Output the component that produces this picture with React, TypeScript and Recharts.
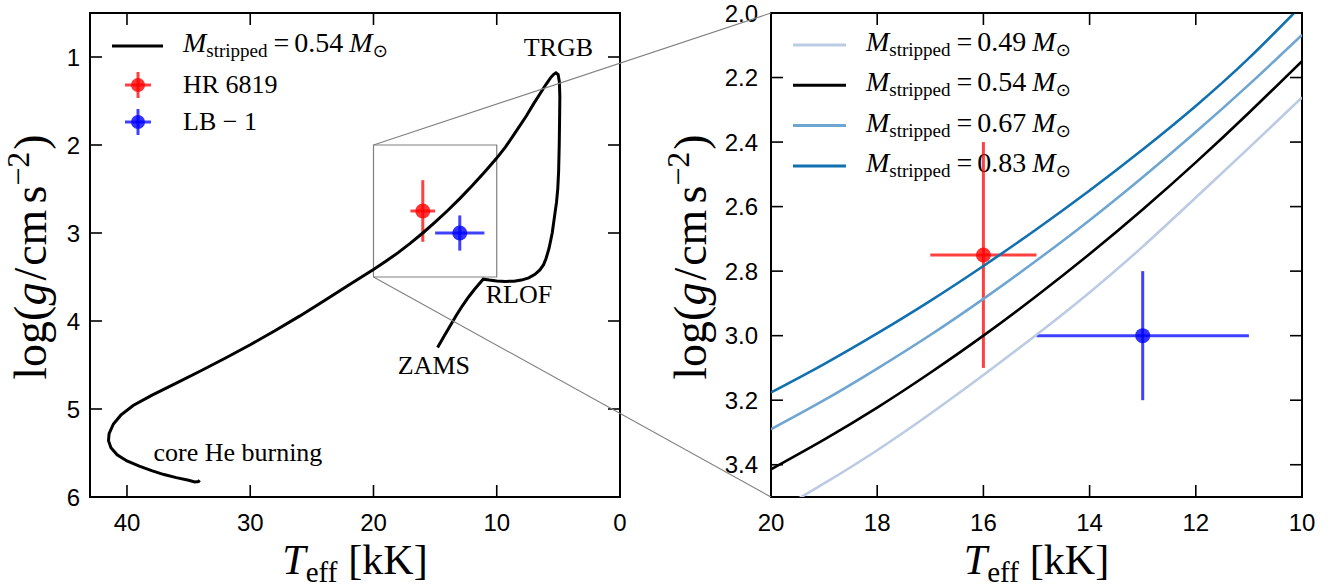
import React from 'react';
import {
  ComposedChart,
  Line,
  Scatter,
  XAxis,
  YAxis,
  ErrorBar,
  ReferenceArea,
  ReferenceDot,
  Customized,
} from 'recharts';

const SERIF = '"Liberation Serif", "DejaVu Serif", serif';
const SANS = '"Liberation Sans", Arial, sans-serif';

// ---------------- data ----------------
// Left panel: full evolutionary track of the 0.54 Msun stripped star (Teff [kK], log g)
const trackZamsToTrgb = [
  [14.8, 4.3], [14.3, 4.18], [13.8, 4.06], [13.3, 3.94], [12.8, 3.83], [12.3, 3.73],
  [11.8, 3.64], [11.4, 3.575], [11.1, 3.525], [10.6, 3.535], [10.0, 3.545], [9.3, 3.55],
  [8.6, 3.548], [8.0, 3.535], [7.4, 3.51], [6.9, 3.47], [6.5, 3.42], [6.2, 3.36],
  [6.0, 3.29], [5.75, 3.17], [5.5, 3.0], [5.3, 2.8], [5.15, 2.65], [5.05, 2.5],
  [4.98, 2.3], [4.93, 2.0], [4.9, 1.7], [4.88, 1.45], [4.92, 1.28], [5.02, 1.2],
  [5.2, 1.18], [5.4, 1.2], [5.65, 1.24], [6.0, 1.31], [6.5, 1.42], [7.0, 1.53],
  [7.6, 1.67], [8.5, 1.86], [9.3, 2.025],
];
const trackHotBranch = [
  [22, 3.59], [24, 3.77], [26, 3.945], [28, 4.11], [30, 4.27], [32, 4.42],
  [34, 4.565], [36, 4.705], [38, 4.845], [39.5, 4.96], [40.5, 5.07], [41.1, 5.17],
  [41.45, 5.28], [41.5, 5.36], [41.3, 5.44], [40.8, 5.52], [40.0, 5.59], [39.0, 5.65],
  [38.0, 5.7], [37.0, 5.745], [36.0, 5.78], [35.0, 5.81], [34.5, 5.83], [34.2, 5.825],
  [34.1, 5.81],
];

// Right panel: zoomed tracks for different stripped masses
const zoomTeff = [20, 19, 18, 17, 16, 15, 14, 13, 12, 11, 10];
const logg049 = [3.555, 3.458, 3.355, 3.242, 3.122, 2.997, 2.866, 2.724, 2.572, 2.418, 2.262];
const logg054 = [3.414, 3.322, 3.223, 3.115, 3.0, 2.877, 2.747, 2.609, 2.463, 2.309, 2.149];
const logg067 = [3.29, 3.2, 3.102, 2.998, 2.886, 2.767, 2.642, 2.509, 2.369, 2.222, 2.068];
const logg083 = [3.176, 3.088, 2.993, 2.892, 2.784, 2.67, 2.55, 2.423, 2.288, 2.14, 1.975];

// Observed stars
const hr6819 = [{ t: 16, g: 2.75, tErr: 1, gErr: 0.35 }];
const lb1 = [{ t: 13, g: 3.0, tErr: 2, gErr: 0.2 }];

// Ticks
const leftTicksX = [40, 30, 20, 10, 0];
const leftTicksY = [1, 2, 3, 4, 5, 6];
const rightTicksX = [20, 18, 16, 14, 12, 10];
const rightTicksY = [2.0, 2.2, 2.4, 2.6, 2.8, 3.0, 3.2, 3.4];

// Legend labels
const leftLegendMass = '0.54';
const starNames = ['HR 6819', 'LB \u2212 1'];
const rightLegendMasses = ['0.49', '0.54', '0.67', '0.83'];

// Annotations (text, Teff, log g of the text baseline centre)
const annotations = [
  { text: 'TRGB', t: 5.0, g: 0.99 },
  { text: 'RLOF', t: 8.2, g: 3.8 },
  { text: 'ZAMS', t: 15.1, g: 4.6 },
  { text: 'core He burning', t: 31.0, g: 5.59 },
];

// zoom box (Teff range, log g range)
const zoomBoxT = [10, 20];
const zoomBoxG = [2.0, 3.5];

// ---------------- derived series ----------------
const toPts = (arr: number[][]) => arr.map(([t, g]) => ({ t, g }));
const zoomSeries = (vals: number[]) => zoomTeff.map((t, i) => ({ t, g: vals[i] }));
const zoom054 = zoomSeries(logg054);
const fullTrack = [
  ...toPts(trackZamsToTrgb),
  ...zoom054.slice().reverse(),
  ...toPts(trackHotBranch),
];
const rightSeries = [
  { data: zoomSeries(logg049), color: '#bccbe4' },
  { data: zoom054, color: '#000000' },
  { data: zoomSeries(logg067), color: '#6ea6d1' },
  { data: zoomSeries(logg083), color: '#1170b0' },
];

// ---------------- layout ----------------
const W = 1335;
const H = 587;
const AX = 1; // axis thickness reserved by Recharts (must be > 0 to render)
const LEFT_CHART = { x: 0, w: 650, margin: { top: 13, right: 30, bottom: 90 - AX, left: 90 - AX } };
const RIGHT_CHART = { x: 650, w: 670, margin: { top: 13, right: 18, bottom: 90 - AX, left: 121 - AX } };
const PLOT_TOP = 13;
const PLOT_H = 484;
const LEFT_PLOT_L = 90;
const LEFT_PLOT_W = 530;
const RIGHT_PLOT_L = 121;
const RIGHT_PLOT_W = 531;
const LEFT_DOM_X: [number, number] = [0, 43];
const LEFT_DOM_Y: [number, number] = [0.5, 6];
const RIGHT_DOM_X: [number, number] = [10, 20];
const RIGHT_DOM_Y: [number, number] = [2.0, 3.5];
const TICK_LEN = 12;
const RED_BAR = 'rgba(255,0,0,0.75)';
const RED_DOT = 'rgba(255,0,0,0.8)';
const BLUE_BAR = 'rgba(0,0,255,0.75)';
const BLUE_DOT = 'rgba(0,0,255,0.8)';

function xTick(top: number, fmt: (v: number) => string) {
  return (props: any) => {
    const { x, y, payload } = props;
    return (
      <g>
        <line x1={x} x2={x} y1={y} y2={y - TICK_LEN} stroke="#000" strokeWidth={1.6} />
        <line x1={x} x2={x} y1={top} y2={top + TICK_LEN} stroke="#000" strokeWidth={1.6} />
        <text x={x} y={y + 34} textAnchor="middle" fontFamily={SANS} fontSize={24} fill="#000">
          {fmt(payload.value)}
        </text>
      </g>
    );
  };
}

function yTick(right: number, gap: number, fmt: (v: number) => string) {
  return (props: any) => {
    const { x, y, payload } = props;
    return (
      <g>
        <line x1={x} x2={x + TICK_LEN} y1={y} y2={y} stroke="#000" strokeWidth={1.6} />
        <line x1={right} x2={right - TICK_LEN} y1={y} y2={y} stroke="#000" strokeWidth={1.6} />
        <text x={x - gap} y={y + 8.5} textAnchor="end" fontFamily={SANS} fontSize={24} fill="#000">
          {fmt(payload.value)}
        </text>
      </g>
    );
  };
}

function XTitle({ cx }: { cx: number }) {
  return (
    <text x={cx} y={574} textAnchor="middle" fontFamily={SERIF} fontSize={42} fill="#000">
      <tspan fontStyle="italic">T</tspan>
      <tspan fontSize={29} dy={8}>eff</tspan>
      <tspan dy={-8} dx={11}>[kK]</tspan>
    </text>
  );
}

function YTitle({ bx, cy }: { bx: number; cy: number }) {
  return (
    <text
      x={bx}
      y={cy}
      transform={`rotate(-90, ${bx}, ${cy})`}
      textAnchor="middle"
      fontFamily={SERIF}
      fontSize={46}
      fill="#000"
    >
      log(<tspan fontStyle="italic">g</tspan>
      <tspan dx={2}>/</tspan>
      <tspan dx={2}>cm</tspan>
      <tspan dx={6}>s</tspan>
      <tspan fontSize={32} dy={-17}>{'\u22122'}</tspan>
      <tspan dy={17} dx={2}>)</tspan>
    </text>
  );
}

function MLabel({ x, y, mass }: { x: number; y: number; mass: string }) {
  return (
    <text x={x} y={y} fontFamily={SERIF} fontSize={28} fill="#000">
      <tspan fontStyle="italic">M</tspan>
      <tspan fontSize={19} dy={5}>stripped</tspan>
      <tspan dy={-5} dx={6}>=</tspan>
      <tspan dx={5}>{mass}</tspan>
      <tspan dx={6} fontStyle="italic">M</tspan>
      <tspan fontSize={18} dy={5} fontFamily='"DejaVu Sans", sans-serif'>{'\u2299'}</tspan>
    </text>
  );
}

function ErrMarker({ x, y, bar, dot }: { x: number; y: number; bar: string; dot: string }) {
  return (
    <g>
      <line x1={x - 13} x2={x + 13} y1={y} y2={y} stroke={bar} strokeWidth={3} />
      <line x1={x} x2={x} y1={y - 13} y2={y + 13} stroke={bar} strokeWidth={3} />
      <circle cx={x} cy={y} r={7} fill={dot} />
    </g>
  );
}

function LeftLegend() {
  const rows = [46, 85, 122];
  return (
    <g>
      <line x1={112} x2={163} y1={rows[0]} y2={rows[0]} stroke="#000" strokeWidth={3} />
      <MLabel x={183} y={rows[0] + 6} mass={leftLegendMass} />
      <ErrMarker x={138} y={rows[1]} bar={RED_BAR} dot={RED_DOT} />
      <text x={183} y={rows[1] + 8} fontFamily={SERIF} fontSize={26} fill="#000">{starNames[0]}</text>
      <ErrMarker x={138} y={rows[2]} bar={BLUE_BAR} dot={BLUE_DOT} />
      <text x={183} y={rows[2] + 8} fontFamily={SERIF} fontSize={26} fill="#000">{starNames[1]}</text>
    </g>
  );
}

function RightLegend() {
  const x0 = 793 - RIGHT_CHART.x;
  return (
    <g>
      {rightLegendMasses.map((m, i) => {
        const y = 45 + i * 40.3;
        return (
          <g key={m}>
            <line x1={x0} x2={x0 + 53} y1={y} y2={y} stroke={rightSeries[i].color} strokeWidth={3} />
            <MLabel x={866 - RIGHT_CHART.x} y={y + 6} mass={m} />
          </g>
        );
      })}
    </g>
  );
}

const dotShape = (fill: string) => (p: any) => <circle cx={p.cx} cy={p.cy} r={7.5} fill={fill} />;

function stars() {
  return [
    <Scatter key="hr" data={hr6819} dataKey="g" isAnimationActive={false} shape={dotShape(RED_DOT)}>
      <ErrorBar dataKey="gErr" direction="y" width={0} stroke={RED_BAR} strokeWidth={3} />
      <ErrorBar dataKey="tErr" direction="x" width={0} stroke={RED_BAR} strokeWidth={3} />
    </Scatter>,
    <Scatter key="lb" data={lb1} dataKey="g" isAnimationActive={false} shape={dotShape(BLUE_DOT)}>
      <ErrorBar dataKey="gErr" direction="y" width={0} stroke={BLUE_BAR} strokeWidth={3} />
      <ErrorBar dataKey="tErr" direction="x" width={0} stroke={BLUE_BAR} strokeWidth={3} />
    </Scatter>,
  ];
}

// pixel helpers for the connector lines that join the two panels
const leftPx = (t: number) =>
  LEFT_CHART.x + LEFT_PLOT_L + ((LEFT_DOM_X[1] - t) / (LEFT_DOM_X[1] - LEFT_DOM_X[0])) * LEFT_PLOT_W;
const leftPy = (g: number) => PLOT_TOP + ((g - LEFT_DOM_Y[0]) / (LEFT_DOM_Y[1] - LEFT_DOM_Y[0])) * PLOT_H;
const rightPx = (t: number) =>
  RIGHT_CHART.x + RIGHT_PLOT_L + ((RIGHT_DOM_X[1] - t) / (RIGHT_DOM_X[1] - RIGHT_DOM_X[0])) * RIGHT_PLOT_W;
const rightPy = (g: number) => PLOT_TOP + ((g - RIGHT_DOM_Y[0]) / (RIGHT_DOM_Y[1] - RIGHT_DOM_Y[0])) * PLOT_H;

export default function App() {
  const lPlotRight = LEFT_PLOT_L + LEFT_PLOT_W;
  const rPlotRight = RIGHT_PLOT_L + RIGHT_PLOT_W;
  return (
    <div style={{ position: 'absolute', left: 0, top: 0, width: W, height: H, background: '#fff' }}>
      <div style={{ position: 'absolute', left: LEFT_CHART.x, top: 0 }}>
        <ComposedChart width={LEFT_CHART.w} height={H} margin={LEFT_CHART.margin}>
          <XAxis
            type="number"
            dataKey="t"
            domain={LEFT_DOM_X}
            reversed
            allowDataOverflow
            ticks={leftTicksX}
            interval={0}
            height={AX}
            tickSize={0}
            tickMargin={0}
            tickLine={false}
            axisLine={false}
            tick={xTick(PLOT_TOP, (v) => String(v))}
            label={() => <XTitle cx={LEFT_PLOT_L + LEFT_PLOT_W / 2} />}
          />
          <YAxis
            type="number"
            dataKey="g"
            domain={LEFT_DOM_Y}
            reversed
            allowDataOverflow
            ticks={leftTicksY}
            interval={0}
            width={AX}
            tickSize={0}
            tickMargin={0}
            tickLine={false}
            axisLine={false}
            tick={yTick(lPlotRight, 10, (v) => String(v))}
            label={() => <YTitle bx={46} cy={PLOT_TOP + PLOT_H / 2 + 2} />}
          />
          <ReferenceArea
            x1={zoomBoxT[0]}
            x2={zoomBoxT[1]}
            y1={zoomBoxG[0]}
            y2={zoomBoxG[1]}
            fill="none"
            fillOpacity={0}
            stroke="#808080"
            strokeWidth={1.2}
          />
          {stars()}
          <Line
            data={fullTrack}
            dataKey="g"
            type="linear"
            stroke="#000"
            strokeWidth={3}
            dot={false}
            activeDot={false}
            isAnimationActive={false}
          />
          {annotations.map((a) => (
            <ReferenceDot
              key={a.text}
              x={a.t}
              y={a.g}
              r={0}
              fill="none"
              stroke="none"
              label={(p: any) => (
                <text
                  x={p.viewBox.x + (p.viewBox.width || 0) / 2}
                  y={p.viewBox.y + (p.viewBox.height || 0) / 2}
                  textAnchor="middle"
                  fontFamily={SERIF}
                  fontSize={26}
                  fill="#000"
                >
                  {a.text}
                </text>
              )}
            />
          ))}
          <ReferenceArea
            x1={LEFT_DOM_X[0]}
            x2={LEFT_DOM_X[1]}
            y1={LEFT_DOM_Y[0]}
            y2={LEFT_DOM_Y[1]}
            fill="none"
            fillOpacity={0}
            stroke="#000"
            strokeWidth={2}
          />
          <Customized component={<LeftLegend />} />
        </ComposedChart>
      </div>
      <div style={{ position: 'absolute', left: RIGHT_CHART.x, top: 0 }}>
        <ComposedChart width={RIGHT_CHART.w} height={H} margin={RIGHT_CHART.margin}>
          <XAxis
            type="number"
            dataKey="t"
            domain={RIGHT_DOM_X}
            reversed
            allowDataOverflow
            ticks={rightTicksX}
            interval={0}
            height={AX}
            tickSize={0}
            tickMargin={0}
            tickLine={false}
            axisLine={false}
            tick={xTick(PLOT_TOP, (v) => String(v))}
            label={() => <XTitle cx={RIGHT_PLOT_L + RIGHT_PLOT_W / 2} />}
          />
          <YAxis
            type="number"
            dataKey="g"
            domain={RIGHT_DOM_Y}
            reversed
            allowDataOverflow
            ticks={rightTicksY}
            interval={0}
            width={AX}
            tickSize={0}
            tickMargin={0}
            tickLine={false}
            axisLine={false}
            tick={yTick(rPlotRight, 13, (v) => v.toFixed(1))}
            label={() => <YTitle bx={RIGHT_PLOT_L - 65} cy={PLOT_TOP + PLOT_H / 2 + 2} />}
          />
          {stars()}
          {rightSeries.map((s, i) => (
            <Line
              key={i}
              data={s.data}
              dataKey="g"
              type="natural"
              stroke={s.color}
              strokeWidth={2.6}
              dot={false}
              activeDot={false}
              isAnimationActive={false}
            />
          ))}
          <ReferenceArea
            x1={RIGHT_DOM_X[0]}
            x2={RIGHT_DOM_X[1]}
            y1={RIGHT_DOM_Y[0]}
            y2={RIGHT_DOM_Y[1]}
            fill="none"
            fillOpacity={0}
            stroke="#000"
            strokeWidth={2}
          />
          <Customized component={<RightLegend />} />
        </ComposedChart>
      </div>
      <svg
        width={W}
        height={H}
        style={{ position: 'absolute', left: 0, top: 0, pointerEvents: 'none' }}
      >
        <line
          x1={leftPx(zoomBoxT[1])}
          y1={leftPy(zoomBoxG[0])}
          x2={rightPx(RIGHT_DOM_X[1])}
          y2={rightPy(RIGHT_DOM_Y[0])}
          stroke="#808080"
          strokeWidth={1.1}
        />
        <line
          x1={leftPx(zoomBoxT[1])}
          y1={leftPy(zoomBoxG[1])}
          x2={rightPx(RIGHT_DOM_X[1])}
          y2={rightPy(RIGHT_DOM_Y[1])}
          stroke="#808080"
          strokeWidth={1.1}
        />
      </svg>
    </div>
  );
}
